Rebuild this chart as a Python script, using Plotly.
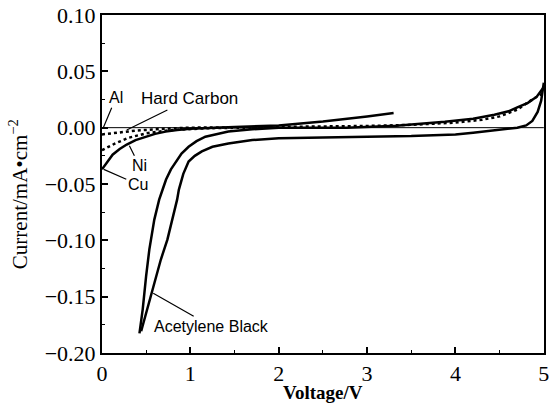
import plotly.graph_objects as go

# Cyclic voltammetry of current collectors / additives (current density vs. voltage)
al_v = [0.0, 5.0]
al_i = [0.0, 0.0]

hc_v = [0.0, 0.2, 0.4, 0.7, 1.0, 1.5, 2.0, 2.5, 3.0, 3.5, 4.0, 4.3, 4.5, 4.7, 4.85, 5.0]
hc_i = [-0.006, -0.004, -0.0025, -0.001, 0.0, 0.0003, 0.0006, 0.001, 0.0015, 0.0025, 0.0045, 0.007, 0.010, 0.016, 0.024, 0.031]

ni_v = [0.0, 0.15, 0.3, 0.5, 0.8, 1.2, 1.6, 2.0]
ni_i = [-0.020, -0.014, -0.009, -0.005, -0.002, -0.0005, 0.0, 0.0]

cu_v = [0.0, 0.06, 0.12, 0.2, 0.28, 0.38, 0.5, 0.6, 0.72, 0.85, 1.0, 1.25, 1.5, 2.0, 2.5, 3.0, 3.3]
cu_i = [-0.037, -0.030, -0.024, -0.019, -0.015, -0.011, -0.008, -0.0055, -0.0035, -0.002, -0.001, 0.0, 0.0005, 0.002, 0.0055, 0.010, 0.013]

# Acetylene black: outer branch (from the cathodic tip up to 5 V)
ab_out_v = [0.424, 0.461, 0.499, 0.536, 0.592, 0.647, 0.69, 0.725, 0.78, 0.837, 0.90, 0.98, 1.07, 1.17, 1.3, 1.43, 1.7, 2.0,
            2.77, 3.33, 3.88, 4.2, 4.44, 4.6, 4.7, 4.82, 4.92, 5.0]
ab_out_i = [-0.1826, -0.161, -0.132, -0.108, -0.0816, -0.0639, -0.054, -0.046, -0.037, -0.030, -0.023, -0.017, -0.012, -0.008, -0.0055, -0.0035, -0.0015, 0.0,
            0.0, 0.0018, 0.0053, 0.008, 0.0115, 0.0145, 0.018, 0.022, 0.0275, 0.036]
# Acetylene black: inner branch
ab_in_v = [0.443, 0.499, 0.555, 0.61, 0.666, 0.74, 0.796, 0.85, 0.87, 0.92, 0.98, 1.05, 1.13, 1.25, 1.43, 1.7, 2.0, 2.5,
           3.0, 3.5, 4.0, 4.2, 4.4, 4.55, 4.7, 4.8, 4.87, 4.93, 4.97, 5.0]
ab_in_i = [-0.1807, -0.1644, -0.1496, -0.132, -0.117, -0.0994, -0.0816, -0.0639, -0.055, -0.041, -0.030, -0.025, -0.021, -0.017, -0.014, -0.011, -0.0095, -0.0085,
           -0.008, -0.0075, -0.006, -0.0045, -0.0025, -0.001, 0.0, 0.002, 0.006, 0.014, 0.024, 0.040]

x_ticks = [0, 1, 2, 3, 4, 5]
y_ticks = [0.10, 0.05, 0.00, -0.05, -0.10, -0.15, -0.20]
y_tick_text = ["0.10", "0.05", "0.00", "\u22120.05", "\u22120.10", "\u22120.15", "\u22120.20"]

fig = go.Figure()
fig.add_trace(go.Scatter(x=al_v, y=al_i, mode="lines", line=dict(color="black", width=1)))
fig.add_trace(go.Scatter(x=hc_v, y=hc_i, mode="lines", line=dict(color="black", width=2.5, dash="dot")))
fig.add_trace(go.Scatter(x=ni_v, y=ni_i, mode="lines", line=dict(color="black", width=2.5, dash="dot")))
fig.add_trace(go.Scatter(x=cu_v, y=cu_i, mode="lines", line=dict(color="black", width=2.5)))
fig.add_trace(go.Scatter(x=ab_out_v, y=ab_out_i, mode="lines", line=dict(color="black", width=2.5)))
fig.add_trace(go.Scatter(x=ab_in_v, y=ab_in_i, mode="lines", line=dict(color="black", width=2.5)))

label_font = dict(family="Liberation Sans, Arial, sans-serif", size=16, color="black")


def label(text, x, y, ax, ay, size=16):
    fig.add_annotation(x=x, y=y, ax=ax, ay=ay, text=text, showarrow=True,
                       arrowhead=0, arrowwidth=1.2, arrowcolor="black",
                       font=dict(label_font, size=size), standoff=0)


label("Al", 0.01, -0.001, 13, -31)
label("Hard Carbon", 0.28, -0.002, 63, -31, size=17)
label("Ni", 0.31, -0.016, 10, 20)
label("Cu", 0.02, -0.037, 34, 15)
label("Acetylene Black", 0.58, -0.147, 58, 33)

tick_font = dict(family="Liberation Serif, Times New Roman, serif", size=22, color="black")
fig.update_xaxes(range=[0, 5.002], tickvals=x_ticks, ticks="inside", ticklen=6, tickwidth=1.5,
                 ticklabeloverflow="allow",
                 minor=dict(dtick=0.5, ticks="inside", ticklen=3, tickwidth=1.2, tickcolor="black"),
                 showline=True, linecolor="black", linewidth=2, mirror=True,
                 showgrid=False, zeroline=False, tickfont=tick_font, tickcolor="black")
fig.update_yaxes(range=[-0.20, 0.10], tickvals=y_ticks, ticktext=y_tick_text, ticks="inside", ticklen=6, tickwidth=1.5,
                 minor=dict(dtick=0.025, ticks="inside", ticklen=3, tickwidth=1.2, tickcolor="black"),
                 showline=True, linecolor="black", linewidth=2, mirror=True,
                 showgrid=False, zeroline=False, tickfont=tick_font, tickcolor="black")

# axis titles placed as annotations
fig.add_annotation(xref="paper", yref="paper", x=0.5, y=-0.117, xanchor="center", yanchor="middle",
                   text="<b>Voltage/V</b>", showarrow=False,
                   font=dict(family="Liberation Serif, serif", size=19, color="black"))
fig.add_annotation(xref="paper", yref="paper", x=-0.19, y=0.47, xanchor="center", yanchor="middle",
                   text="Current/mA\u2022cm<sup>\u22122</sup>", textangle=-90, showarrow=False,
                   font=dict(family="Liberation Serif, serif", size=21, color="black"))

fig.update_layout(width=550, height=411, margin=dict(l=102, r=1, t=15, b=58),
                  paper_bgcolor="white", plot_bgcolor="white", showlegend=False)
fig.write_html("out.html")
